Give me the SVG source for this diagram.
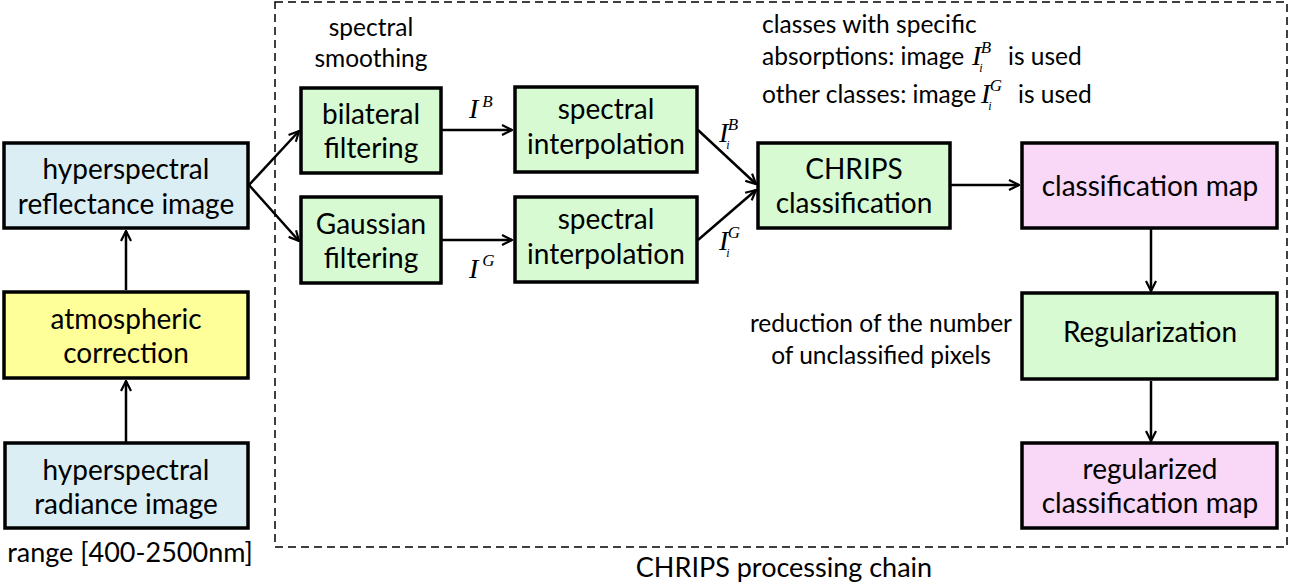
<svg xmlns="http://www.w3.org/2000/svg" width="1294" height="585" viewBox="0 0 1294 585">
<style>
.box{stroke:#000;stroke-width:3.5}
.blue{fill:#dbeef4}
.yel{fill:#ffff99}
.grn{fill:#d7fad2}
.pnk{fill:#f8d8f6}
text{font-family:Lato,"Open Sans","Liberation Sans",sans-serif;font-size:28px;fill:#000}
.a{font-size:24.5px}
.b{font-size:27px}
.c{text-anchor:middle}
.m{font-family:"Liberation Serif","Times New Roman",serif;font-style:italic;font-size:28px}
.sup{font-size:17px}
.sub{font-size:12px}
.con{stroke:#000;stroke-width:2.5;fill:none;marker-end:url(#ah)}
</style>
<defs>
<marker id="ah" viewBox="0 0 12 12" refX="11" refY="6" markerWidth="12" markerHeight="12" markerUnits="userSpaceOnUse" orient="auto">
<path d="M1,1 L11,6 L1,11" fill="none" stroke="#000" stroke-width="2.2"/>
</marker>
</defs>
<rect x="275" y="2" width="1012" height="545" fill="none" stroke="#000" stroke-width="1.5" stroke-dasharray="8,5"/>
<g id="connectors">
<line class="con" x1="126" y1="290" x2="126" y2="231"/>
<line class="con" x1="126" y1="442" x2="126" y2="381"/>
<line class="con" x1="249" y1="185" x2="299" y2="131"/>
<line class="con" x1="249" y1="185" x2="299" y2="241"/>
<line class="con" x1="442" y1="130" x2="512" y2="130"/>
<line class="con" x1="442" y1="240" x2="512" y2="240"/>
<line class="con" x1="698" y1="130" x2="756" y2="184"/>
<line class="con" x1="698" y1="240" x2="756" y2="190"/>
<line class="con" x1="951" y1="185" x2="1019" y2="185"/>
<line class="con" x1="1151" y1="229" x2="1151" y2="291"/>
<line class="con" x1="1151" y1="381" x2="1151" y2="441"/>
</g>
<g id="n-reflectance"><rect class="box blue" x="4" y="143" width="244" height="85"/><text class="c" x="126" y="179">hyperspectral</text><text class="c" x="126" y="214">reflectance image</text></g>
<g id="n-atmos"><rect class="box yel" x="4" y="292" width="244" height="86"/><text class="c" x="126" y="329">atmospheric</text><text class="c" x="126" y="363">correction</text></g>
<g id="n-radiance"><rect class="box blue" x="5" y="443" width="243" height="85"/><text class="c" x="126" y="480">hyperspectral</text><text class="c" x="126" y="514">radiance image</text></g>
<text class="c b" x="130" y="562">range [400-2500nm]</text>
<g id="n-bilateral"><rect class="box grn" x="301" y="88" width="140" height="85"/><text class="c" x="371" y="124">bilateral</text><text class="c" x="371" y="158">filtering</text></g>
<g id="n-gaussian"><rect class="box grn" x="301" y="197" width="140" height="86"/><text class="c" x="371" y="234">Gaussian</text><text class="c" x="371" y="268">filtering</text></g>
<text class="c a" x="371" y="36">spectral</text><text class="c a" x="371" y="67">smoothing</text>
<g id="n-interp1"><rect class="box grn" x="515" y="87" width="182" height="85"/><text class="c" x="606" y="119">spectral</text><text class="c" x="606" y="154">interpolation</text></g>
<g id="n-interp2"><rect class="box grn" x="515" y="197" width="182" height="85"/><text class="c" x="606" y="229">spectral</text><text class="c" x="606" y="264">interpolation</text></g>
<g id="n-chrips"><rect class="box grn" x="758" y="143" width="192" height="85"/><text class="c" x="854" y="179">CHRIPS</text><text class="c" x="854" y="213">classification</text></g>
<g id="n-classmap"><rect class="box pnk" x="1022" y="143" width="255" height="85"/><text class="c" x="1150" y="196">classification map</text></g>
<g id="n-regul"><rect class="box grn" x="1022" y="293" width="255" height="86"/><text class="c" x="1150" y="342">Regularization</text></g>
<g id="n-regmap"><rect class="box pnk" x="1022" y="443" width="255" height="85"/><text class="c" x="1150" y="479">regularized</text><text class="c" x="1150" y="513">classification map</text></g>
<text class="m" x="469" y="118">I<tspan class="sup" dx="4" dy="-11">B</tspan></text>
<text class="m" x="469" y="278">I<tspan class="sup" dx="4" dy="-12">G</tspan></text>
<text class="m" x="719" y="142">I<tspan class="sub" dx="-2" dy="7">i</tspan><tspan class="sup" dx="-2" dy="-19">B</tspan></text>
<text class="m" x="719" y="250">I<tspan class="sub" dx="-2" dy="7">i</tspan><tspan class="sup" dx="-2" dy="-19">G</tspan></text>
<text class="a" x="762" y="33">classes with specific</text>
<text class="a" x="762" y="65">absorptions: image</text>
<text class="m" x="972" y="65">I<tspan class="sub" dx="-2" dy="7">i</tspan><tspan class="sup" dx="-2" dy="-19">B</tspan></text>
<text class="a" x="1008" y="65">is used</text>
<text class="a" x="762" y="103">other classes: image</text>
<text class="m" x="981" y="103">I<tspan class="sub" dx="-2" dy="7">i</tspan><tspan class="sup" dx="-2" dy="-19">G</tspan></text>
<text class="a" x="1018" y="103">is used</text>
<text class="c a" x="881" y="332">reduction of the number</text>
<text class="c a" x="881" y="364">of unclassified pixels</text>
<text class="c b" x="784" y="577">CHRIPS processing chain</text>
</svg>
